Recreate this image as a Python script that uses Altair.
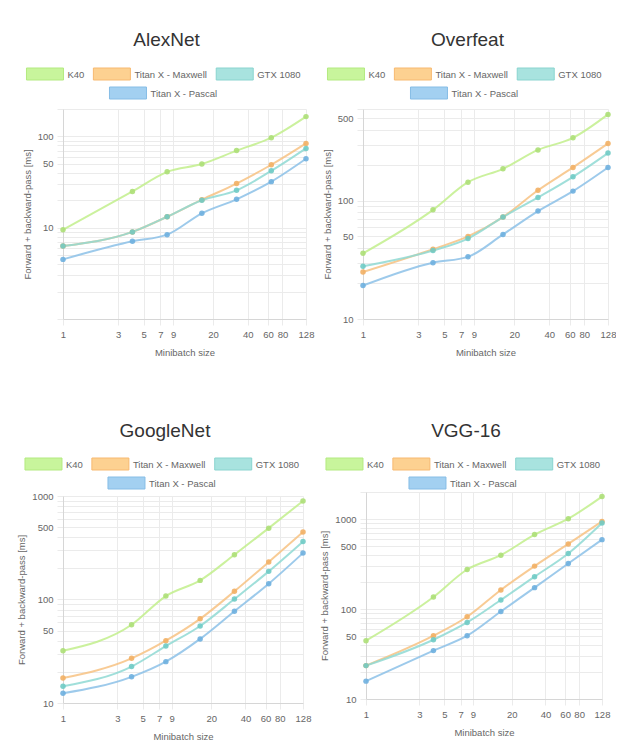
import altair as alt
import pandas as pd

# ---------------- data ----------------
series = ["K40", "Titan X - Maxwell", "GTX 1080", "Titan X - Pascal"]
batch_sizes = [1, 4, 8, 16, 32, 64, 128]
x_ticks = [1, 3, 5, 7, 9, 20, 40, 60, 80, 128]

alexnet_k40 = [9.5, 25, 41, 50, 70, 97, 165]
alexnet_maxwell = [6.3, 9.0, 13.2, 20.3, 30.5, 49, 84]
alexnet_gtx1080 = [6.3, 9.0, 13.2, 20.0, 25.7, 42, 74]
alexnet_pascal = [4.5, 7.1, 8.4, 14.4, 20.5, 32, 57]

overfeat_k40 = [36, 84, 144, 187, 270, 342, 540]
overfeat_maxwell = [25, 39, 50, 73, 123, 192, 306]
overfeat_gtx1080 = [28, 38, 48, 73, 107, 160, 254]
overfeat_pascal = [19.2, 30, 33.6, 52, 82, 121, 192]

googlenet_k40 = [32, 57, 108, 153, 271, 489, 895]
googlenet_maxwell = [17.4, 27, 40, 65, 120, 230, 448]
googlenet_gtx1080 = [14.5, 22.5, 35.5, 55.5, 101, 187, 363]
googlenet_pascal = [12.4, 17.9, 25.1, 41.6, 77, 142, 281]

vgg16_k40 = [44.5, 136, 275, 397, 672, 1009, 1780]
vgg16_maxwell = [23.5, 50.5, 82, 163, 300, 529, 942]
vgg16_gtx1080 = [23.5, 45.6, 71, 126, 229, 414, 904]
vgg16_pascal = [15.8, 34.5, 50.5, 94, 173, 321, 591]

alexnet_y_domain = [1, 200]
overfeat_y_domain = [10, 600]
googlenet_y_domain = [10, 1000]
vgg16_y_domain = [10, 2000]

alexnet_y_labels = [10, 50, 100]
overfeat_y_labels = [10, 50, 100, 500]
googlenet_y_labels = [10, 50, 100, 500, 1000]
vgg16_y_labels = [10, 50, 100, 500, 1000]

# ---------------- styles ----------------
FONT = "Liberation Sans"
line_colors = ["#c2ef8c", "#f7c283", "#8fd9d3", "#8cc1e8"]
point_colors = ["#addf78", "#f2b065", "#70cbc5", "#6fb0df"]
legend_fill = ["#c8f59c", "#fdd191", "#a8e3df", "#a3d0f1"]
legend_stroke = ["#b3ea80", "#f7b970", "#8ad4cf", "#86bde6"]
TEXT = "#666666"
GRID = "#ebebeb"
LEG_FS = 9.5
BOX_W, BOX_H, BOX_GAP, ITEM_GAP = 37, 12, 4, 9
NO_VIEW = alt.ViewBackground(stroke="transparent", strokeWidth=0)

# Arial / Liberation Sans advance widths (per 1000 em) for legend-layout estimation
_W = {'K': 667, '4': 556, '0': 556, 'T': 611, 'i': 222, 't': 278, 'a': 556, 'n': 556, ' ': 278,
      'X': 667, '-': 333, 'M': 833, 'x': 500, 'w': 722, 'e': 556, 'l': 222, 'G': 778, '1': 556,
      '8': 556, 'P': 667, 's': 500, 'c': 500}


def text_w(s, fs):
    return sum(_W.get(ch, 556) for ch in s) * fs / 1000.0


def grid_values(lo, hi):
    vals = []
    p = 1
    while p <= hi:
        for m in range(1, 10):
            v = m * p
            if lo <= v <= hi:
                vals.append(v)
        p *= 10
    return vals


def header(name, plot_w, title_base, row1_top, row2_top, height):
    """Title + Chart.js-style legend (3 items then 1 centred), laid out in pixels
    relative to the plot area's left edge."""
    center = plot_w / 2.0 - 21
    item_w = [BOX_W + BOX_GAP + text_w(s, LEG_FS) for s in series]
    rows_def = [[0, 1, 2], [3]]
    tops = [row1_top, row2_top]
    boxes, labels = [], []
    for r, idxs in enumerate(rows_def):
        total = sum(item_w[i] for i in idxs) + ITEM_GAP * (len(idxs) - 1)
        cur = center - total / 2.0
        for i in idxs:
            boxes.append({"series": series[i], "x0": cur, "x1": cur + BOX_W,
                          "y0": tops[r], "y1": tops[r] + BOX_H})
            labels.append({"series": series[i], "x": cur + BOX_W + BOX_GAP,
                           "y": tops[r] + BOX_H / 2.0 + 0.5})
            cur += item_w[i] + ITEM_GAP
    bdf = pd.DataFrame(boxes)
    ldf = pd.DataFrame(labels)
    tdf = pd.DataFrame({"title": [name], "x": [center + 3], "y": [title_base]})

    box = alt.Chart(bdf).mark_rect(strokeWidth=1).encode(
        x=alt.X("x0:Q", scale=None, axis=None), x2="x1:Q",
        y=alt.Y("y0:Q", scale=None, axis=None), y2="y1:Q",
        fill=alt.Fill("series:N", scale=alt.Scale(domain=series, range=legend_fill), legend=None),
        stroke=alt.Stroke("series:N", scale=alt.Scale(domain=series, range=legend_stroke), legend=None),
    )
    txt = alt.Chart(ldf).mark_text(align="left", baseline="middle", font=FONT, fontSize=LEG_FS,
                                   color=TEXT).encode(
        x=alt.X("x:Q", scale=None, axis=None), y=alt.Y("y:Q", scale=None, axis=None),
        text="series:N",
    )
    ttl = alt.Chart(tdf).mark_text(align="center", baseline="alphabetic", font=FONT, fontSize=19,
                                   color="#333333").encode(
        x=alt.X("x:Q", scale=None, axis=None), y=alt.Y("y:Q", scale=None, axis=None),
        text="title:N",
    )
    return alt.layer(box, txt, ttl).properties(width=plot_w, height=height, view=NO_VIEW)


def plot(lists, ydom, ylabels, w, h):
    rows = []
    for s, vals in zip(series, lists):
        for b, v in zip(batch_sizes, vals):
            rows.append({"series": s, "batch": b, "ms": v})
    df = pd.DataFrame(rows)
    lab = "[" + ",".join(str(v) for v in ylabels) + "]"
    x = alt.X(
        "batch:Q",
        scale=alt.Scale(type="log", domain=[1, 128], nice=False),
        axis=alt.Axis(
            values=x_ticks, format="d", labelFlush=False, title="Minibatch size",
            grid=True, gridColor=GRID, domainColor="#d6d6d6", tickColor=GRID, tickSize=6,
            labelColor=TEXT, labelFont=FONT, labelFontSize=9.5, labelPadding=4,
            titleColor=TEXT, titleFont=FONT, titleFontSize=9.5, titleFontWeight="normal", titlePadding=9,
        ),
    )
    y = alt.Y(
        "ms:Q",
        scale=alt.Scale(type="log", domain=ydom, nice=False),
        axis=alt.Axis(
            values=grid_values(*ydom),
            labelExpr="indexof(" + lab + ", datum.value) >= 0 ? format(datum.value, 'd') : ''",
            title="Forward + backward-pass [ms]",
            grid=True, gridColor=GRID, domainColor="#d6d6d6", tickColor=GRID, tickSize=6,
            labelColor=TEXT, labelFont=FONT, labelFontSize=9.5, labelPadding=4,
            titleColor=TEXT, titleFont=FONT, titleFontSize=9.5, titleFontWeight="normal", titlePadding=5,
        ),
    )
    lines = alt.Chart(df).mark_line(interpolate="monotone", strokeWidth=2, opacity=0.85).encode(
        x=x, y=y,
        color=alt.Color("series:N", scale=alt.Scale(domain=series, range=line_colors), legend=None),
        detail="series:N",
    )
    pts = alt.Chart(df).mark_circle(size=30, opacity=0.9).encode(
        x=x, y=y,
        color=alt.Color("series:N", scale=alt.Scale(domain=series, range=point_colors), legend=None),
    )
    return alt.layer(lines, pts).resolve_scale(color="independent").properties(
        width=w, height=h, view=NO_VIEW)


def panel(name, lists, ydom, ylabels, w, h, top_row):
    if top_row:
        head = header(name, w, 14, 36, 55, 67)
        gap = 8
    else:
        head = header(name, w, 13, 34, 53, 65)
        gap = 1
    return alt.vconcat(head, plot(lists, ydom, ylabels, w, h), spacing=gap).resolve_scale(
        fill="independent", stroke="independent")


p1 = panel("AlexNet", [alexnet_k40, alexnet_maxwell, alexnet_gtx1080, alexnet_pascal],
           alexnet_y_domain, alexnet_y_labels, 243, 210, True)
p2 = panel("Overfeat", [overfeat_k40, overfeat_maxwell, overfeat_gtx1080, overfeat_pascal],
           overfeat_y_domain, overfeat_y_labels, 245, 210, True)
p3 = panel("GoogleNet", [googlenet_k40, googlenet_maxwell, googlenet_gtx1080, googlenet_pascal],
           googlenet_y_domain, googlenet_y_labels, 240, 207, False)
p4 = panel("VGG-16", [vgg16_k40, vgg16_maxwell, vgg16_gtx1080, vgg16_pascal],
           vgg16_y_domain, vgg16_y_labels, 236, 207, False)

chart = alt.vconcat(
    alt.hconcat(p1, p2, spacing=8),
    alt.hconcat(p3, p4, spacing=8),
    spacing=65,
).properties(
    padding={"left": 8, "top": 23, "right": 0, "bottom": 0},
    background="white",
).configure_view(stroke="transparent", strokeWidth=0).configure(font=FONT)

chart.save("out.html", embed_options={"renderer": "svg", "actions": False})
